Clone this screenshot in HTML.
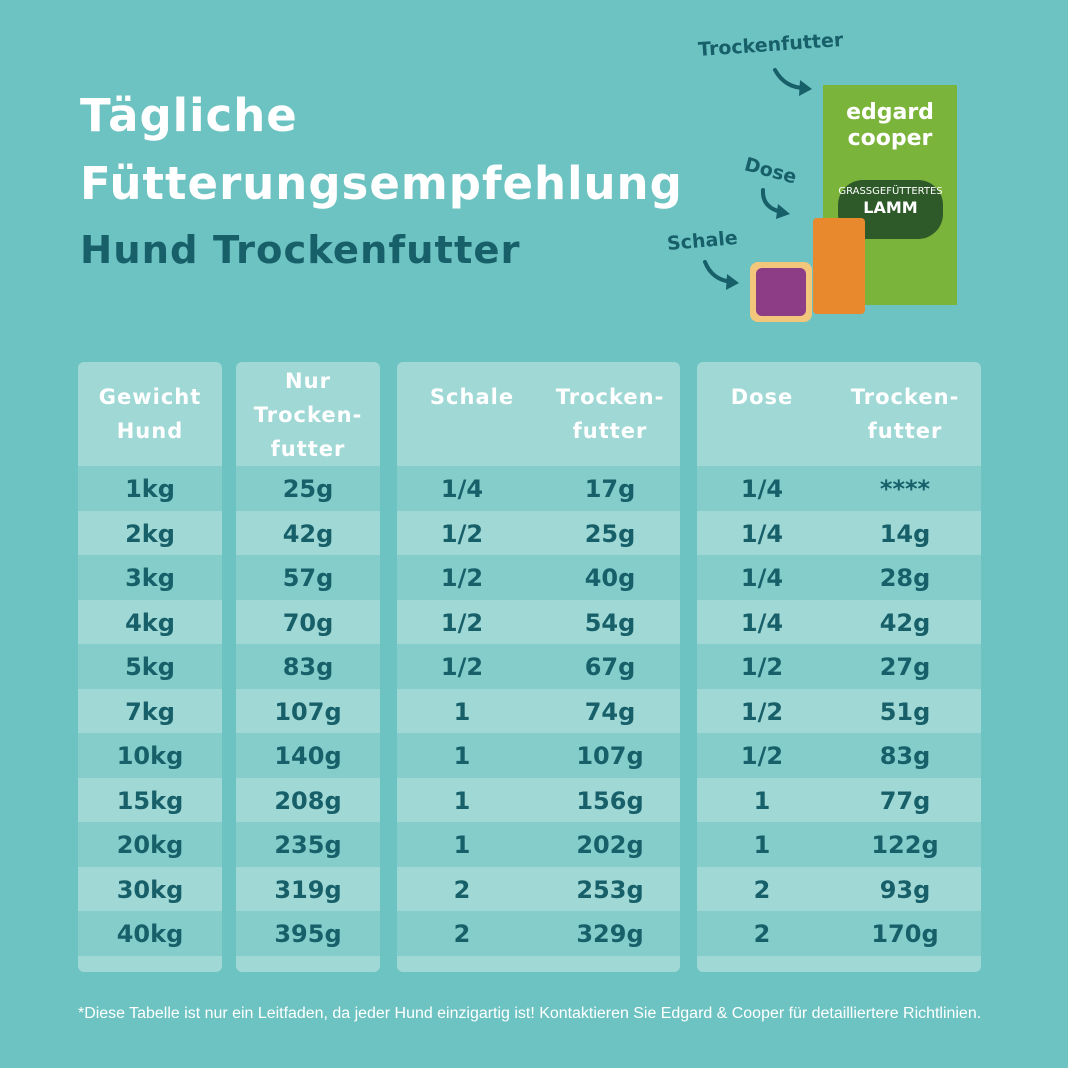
<!DOCTYPE html>
<html><head><meta charset="utf-8"><style>
body{margin:0;width:1068px;height:1068px;background:#6dc3c2;position:relative;overflow:hidden;font-family:"DejaVu Sans","Liberation Sans",sans-serif;}
.t{position:absolute;font-weight:bold;white-space:nowrap;}
.p{position:absolute;top:362px;height:610px;background:#a0d8d5;border-radius:6px;overflow:hidden;}
.c{position:absolute;text-align:center;color:#17606a;font-weight:bold;font-size:24px;line-height:44px;}
.h{position:absolute;text-align:center;color:#fff;font-weight:bold;font-size:21px;line-height:34px;letter-spacing:1px;}
</style></head><body>
<div class="t" style="left:80px;top:82px;color:#fff;font-size:45px;line-height:68px;letter-spacing:1px">Tägliche<br>Fütterungsempfehlung</div>
<div class="t" style="left:80px;top:228px;color:#17606a;font-size:38.5px;letter-spacing:1px">Hund Trockenfutter</div>
<div class="t" style="left:698px;top:34px;color:#17606a;font-size:19px;transform:rotate(-4deg)">Trockenfutter</div>
<div class="t" style="left:744px;top:160px;color:#17606a;font-size:19px;transform:rotate(15deg)">Dose</div>
<div class="t" style="left:667px;top:230px;color:#17606a;font-size:19px;transform:rotate(-5deg)">Schale</div>
<svg style="position:absolute;left:0;top:0" width="1068" height="1068">
<g fill="none" stroke="#17606a" stroke-width="4" stroke-linecap="round">
<path d="M775 70 Q785 88 805 88"/><path d="M763 190 Q762 208 782 212"/><path d="M705 262 Q712 280 732 282"/>
</g>
<g fill="#17606a"><path d="M800 80 L812 89 L799 96Z"/><path d="M778 204 L790 214 L776 219Z"/><path d="M727 274 L739 283 L726 290Z"/></g>
</svg>
<div style="position:absolute;left:823px;top:85px;width:134px;height:220px;background:#7bb43a;"></div>
<div style="position:absolute;left:840px;top:100px;width:100px;height:60px;color:#fff;font-size:22px;font-weight:bold;text-align:center;line-height:26px">edgard<br>cooper</div>
<div style="position:absolute;left:838px;top:180px;width:105px;height:55px;background:#2e5a2a;border-radius:25px;color:#fff;font-size:10px;text-align:center;line-height:16px;padding-top:4px">GRASSGEFÜTTERTES<br><b style="font-size:16px">LAMM</b></div>
<div style="position:absolute;left:813px;top:218px;width:52px;height:96px;background:#e8892e;border-radius:4px;"></div>
<div style="position:absolute;left:750px;top:262px;width:62px;height:60px;background:#f2c77c;border-radius:8px;"></div>
<div style="position:absolute;left:756px;top:268px;width:50px;height:48px;background:#8d3c86;border-radius:6px;"></div>

<div class="p" style="left:78px;width:144px"></div>
<div class="p" style="left:236px;width:144px"></div>
<div class="p" style="left:397px;width:283px"></div>
<div class="p" style="left:697px;width:284px"></div>
<div id="rows"></div>
<div class="h" style="left:78px;width:144px;top:380px">Gewicht<br>Hund</div>
<div class="h" style="left:236px;width:144px;top:364px">Nur<br>Trocken-<br>futter</div>
<div class="h" style="left:397px;width:150px;top:380px">Schale</div>
<div class="h" style="left:540px;width:140px;top:380px">Trocken-<br>futter</div>
<div class="h" style="left:697px;width:130px;top:380px">Dose</div>
<div class="h" style="left:840px;width:130px;top:380px">Trocken-<br>futter</div>
<div style="position:absolute;left:78px;top:1005px;width:1000px;white-space:nowrap;color:#fff;font-family:'Liberation Sans',sans-serif;font-size:15.5px;transform:scaleX(1.03);transform-origin:left">*Diese Tabelle ist nur ein Leitfaden, da jeder Hund einzigartig ist! Kontaktieren Sie Edgard &amp; Cooper für detailliertere Richtlinien.</div>
<script>
var d=[["1kg","25g","1/4","17g","1/4","****"],["2kg","42g","1/2","25g","1/4","14g"],["3kg","57g","1/2","40g","1/4","28g"],["4kg","70g","1/2","54g","1/4","42g"],["5kg","83g","1/2","67g","1/2","27g"],["7kg","107g","1","74g","1/2","51g"],["10kg","140g","1","107g","1/2","83g"],["15kg","208g","1","156g","1","77g"],["20kg","235g","1","202g","1","122g"],["30kg","319g","2","253g","2","93g"],["40kg","395g","2","329g","2","170g"]];
var P=[[78,144],[236,144],[397,283],[697,284]];
var C=[[78,144],[236,144],[397,130],[540,140],[697,130],[840,130]];
var h="";
d.forEach(function(r,i){var y=466+i*44.5;
if(i%2==0)P.forEach(function(p){h+='<div style="position:absolute;left:'+p[0]+'px;width:'+p[1]+'px;top:'+y+'px;height:44.5px;background:#84cdcb"></div>';});
r.forEach(function(v,j){h+='<div class="c" style="left:'+C[j][0]+'px;width:'+C[j][1]+'px;top:'+(y+1)+'px">'+v+'</div>';});});
document.getElementById("rows").innerHTML=h;
</script>
</body></html>
